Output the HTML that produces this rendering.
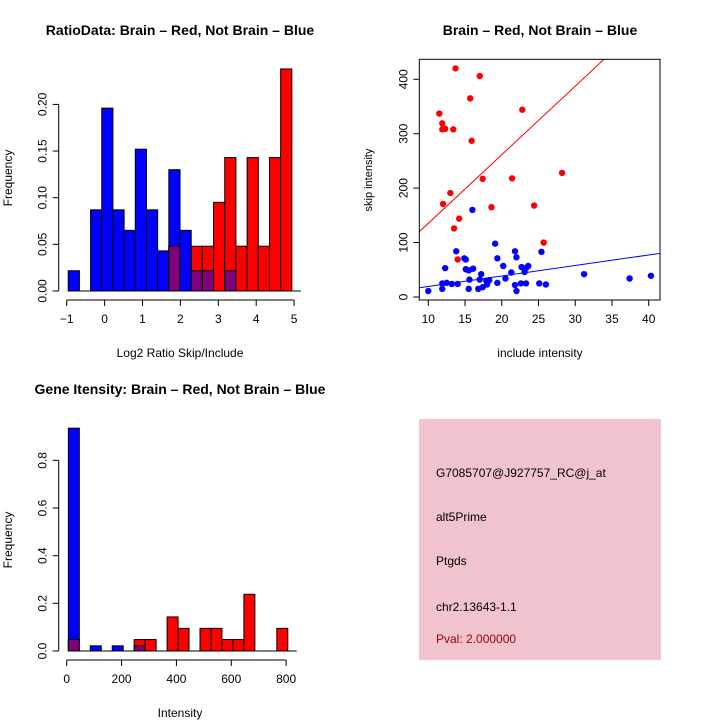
<!DOCTYPE html>
<html><head><meta charset="utf-8"><style>
body{margin:0;background:#fff}
svg{display:block;font-family:"Liberation Sans",sans-serif}
</style></head><body>
<svg id="svg" width="720" height="720" viewBox="0 0 720 720">
<text x="180" y="35" font-size="14" font-weight="bold" text-anchor="middle">RatioData: Brain – Red, Not Brain – Blue</text>
<text x="540" y="35" font-size="14" font-weight="bold" text-anchor="middle">Brain – Red, Not Brain – Blue</text>
<text x="180" y="394" font-size="14" font-weight="bold" text-anchor="middle">Gene Itensity: Brain – Red, Not Brain – Blue</text>
<g id="g1"></g>
<g id="g2"></g>
<g id="g3"></g>
<g>
<rect x="419" y="419" width="242" height="241" fill="#f1c3cd"/>
<g font-size="12">
<text x="436" y="477">G7085707@J927757_RC@j_at</text>
<text x="436" y="521">alt5Prime</text>
<text x="436" y="565">Ptgds</text>
<text x="436" y="611">chr2.13643-1.1</text>
<text x="436" y="643" fill="#990000">Pval: 2.000000</text>
</g></g>
</svg>
<script>
// Ratio histogram data
const ratioBinStart = -0.96;
const ratioBinWidth = 0.295;
const ratioBlue = [0.0217,0,0.087,0.196,0.087,0.065,0.152,0.087,0.043,0.13,0.065,0.0217,0.0217,0,0.0217,0,0,0,0,0];
const ratioRed = [0,0,0,0,0,0,0,0,0,0.048,0,0.048,0.048,0.095,0.143,0.048,0.143,0.048,0.143,0.238];
const ratioXTicks = [-1,0,1,2,3,4,5];
const ratioYTicks = [0,0.05,0.10,0.15,0.20];
const ratioYLabels = ["0.00","0.05","0.10","0.15","0.20"];
// Intensity histogram data
const intBinStart = 6;
const intBinWidth = 40;
const intBlue = [0.935,0,0.0217,0,0.0217,0,0.0217,0,0,0,0,0,0,0,0,0,0,0,0,0];
const intRed = [0.048,0,0,0,0,0,0.048,0.048,0,0.143,0.095,0,0.095,0.095,0.048,0.048,0.238,0,0,0.095];
const intXTicks = [0,200,400,600,800];
const intYTicks = [0,0.2,0.4,0.6,0.8];
const intYLabels = ["0.0","0.2","0.4","0.6","0.8"];
// Scatter data
const redX = [13.7,17.0,11.5,11.9,11.9,12.3,13.4,15.7,22.8,15.9,17.4,21.4,28.2,13.0,12.0,14.2,18.6,24.4,13.5,14.0,25.7];
const redY = [420,406,337,319,308,309,308,365,344,287,217,218,228,191,171,144,165,168,126,69,100];
const blueX = [10.0,16.0,13.8,12.3,11.9,11.9,12.5,13.2,14.0,14.9,15.1,15.1,15.5,16.1,15.6,15.5,16.8,17.2,17.0,17.4,17.9,18.3,18.0,19.1,19.4,19.4,20.2,20.5,21.3,21.8,21.8,22.0,22.0,22.6,22.7,23.1,23.3,23.6,23.3,25.1,25.4,26.0,31.2,37.4,40.3];
const blueY = [11,160,84,53,25,15,26,24,24,71,69,51,49,52,32,15,15,42,32,18,30,31,23,98,71,26,57,34,45,22,84,73,11,25,55,46,53,57,25,25,83,23,42,34,39];
const redFit = [9.4,12.6];   // intercept, slope
const blueFit = [0,1.93];
const scatterXTicks = [10,15,20,25,30,35,40];
const scatterYTicks = [0,100,200,300,400];

const NS="http://www.w3.org/2000/svg";
function mk(parent,tag,attrs){const e=document.createElementNS(NS,tag);for(const k in attrs)e.setAttribute(k,attrs[k]);parent.appendChild(e);return e;}

function hist(g,o){
  const sx=v=>o.x0+(v-o.vx0)*o.kx, sy=v=>o.y0-v*o.ky;
  for(let i=0;i<o.blue.length;i++){
    const a=o.start+i*o.w,b=a+o.w;
    const x=sx(a),wd=sx(b)-sx(a);
    const hb=o.blue[i],hr=o.red[i],hm=Math.min(hb,hr);
    if(hb>0){const r=mk(g,'rect',{x:x,y:sy(hb),width:wd,height:sy(0)-sy(hb),fill:'#0000ff',stroke:'#000','stroke-width':1});
      
      }
    if(hr>0){const r=mk(g,'rect',{x:x,y:sy(hr),width:wd,height:sy(0)-sy(hr),fill:'#ff0000',stroke:'#000','stroke-width':1});
      
      }
    if(hm>0){const r=mk(g,'rect',{x:x,y:sy(hm),width:wd,height:sy(0)-sy(hm),fill:'#800080',stroke:'#000','stroke-width':1});
      
      }
  }
  // baseline
  mk(g,'line',{x1:sx(o.start),x2:sx(o.start+o.blue.length*o.w)+9,y1:o.y0,y2:o.y0,stroke:'#000'});
  // x axis
  const xa=o.y0+9;
  mk(g,'line',{x1:sx(o.xt[0]),x2:sx(o.xt[o.xt.length-1]),y1:xa,y2:xa,stroke:'#000'});
  o.xt.forEach(t=>{mk(g,'line',{x1:sx(t),x2:sx(t),y1:xa,y2:xa+6,stroke:'#000'});
    const tx=mk(g,'text',{x:sx(t),y:xa+23,'font-size':12,'text-anchor':'middle'});tx.textContent=t<0?'\u2212'+(-t):t;
    
    });
  // y axis
  const ya=o.x0-8;
  mk(g,'line',{x1:ya,x2:ya,y1:sy(o.yt[0]),y2:sy(o.yt[o.yt.length-1]),stroke:'#000'});
  o.yt.forEach((t,i)=>{mk(g,'line',{x1:ya-6,x2:ya,y1:sy(t),y2:sy(t),stroke:'#000'});
    const tx=mk(g,'text',{x:ya-12,y:sy(t),'font-size':12,'text-anchor':'middle',transform:`rotate(-90 ${ya-12} ${sy(t)})`});tx.textContent=o.yl[i];
    
    });
  const xl=mk(g,'text',{x:o.xlx,y:o.xly,'font-size':12,'text-anchor':'middle'});xl.textContent=o.xlab;
  
  
  const yl=mk(g,'text',{x:12,y:o.yly,'font-size':12,'text-anchor':'middle',transform:`rotate(-90 12 ${o.yly})`});yl.textContent='Frequency';
  
  
}
hist(document.getElementById('g1'),{x0:66.7,vx0:-1,kx:37.9,y0:291,ky:933,start:ratioBinStart,w:ratioBinWidth,blue:ratioBlue,red:ratioRed,xt:ratioXTicks,yt:ratioYTicks,yl:ratioYLabels,xlab:'Log2 Ratio Skip/Include',xlx:180,xly:357,yly:178});
hist(document.getElementById('g3'),{x0:66.7,vx0:0,kx:0.2743,y0:651,ky:238.3,start:intBinStart,w:intBinWidth,blue:intBlue,red:intRed,xt:intXTicks,yt:intYTicks,yl:intYLabels,xlab:'Intensity',xlx:180,xly:717,yly:540});

// scatter
(function(){
  const g=document.getElementById('g2');
  const L=419.3,R=660,T=59.3,B=300;
  const sx=v=>428.3+(v-10)*7.347, sy=v=>297-v*0.5443;
  const vx=p=>(p-428.3)/7.347+10;
  const cp=mk(g,'clipPath',{id:'sc'});mk(cp,'rect',{x:L,y:T,width:R-L,height:B-T});
  [[redFit,'#ff0000','red-fit-line'],[blueFit,'#0000ff','blue-fit-line']].forEach(([f,c,n])=>{
    const x1=vx(L),x2=vx(R);
    const l=mk(g,'line',{x1:L,x2:R,y1:sy(f[0]+f[1]*x1),y2:sy(f[0]+f[1]*x2),stroke:c,'clip-path':'url(#sc)'});
    
    
  });
  redX.forEach((x,i)=>{const c=mk(g,'circle',{cx:sx(x),cy:sy(redY[i]),r:3.2,fill:'#ff0000'});
    
    });
  blueX.forEach((x,i)=>{const c=mk(g,'circle',{cx:sx(x),cy:sy(blueY[i]),r:3.2,fill:'#0000ff'});
    
    });
  mk(g,'rect',{x:L,y:T,width:R-L,height:B-T,fill:'none',stroke:'#000'});
  scatterXTicks.forEach(t=>{mk(g,'line',{x1:sx(t),x2:sx(t),y1:B,y2:B+6,stroke:'#000'});
    const tx=mk(g,'text',{x:sx(t),y:B+23,'font-size':12,'text-anchor':'middle'});tx.textContent=t;
    
    });
  scatterYTicks.forEach(t=>{mk(g,'line',{x1:L-6,x2:L,y1:sy(t),y2:sy(t),stroke:'#000'});
    const tx=mk(g,'text',{x:L-12,y:sy(t),'font-size':12,'text-anchor':'middle',transform:`rotate(-90 ${L-12} ${sy(t)})`});tx.textContent=t;
    
    });
  const xl=mk(g,'text',{x:540,y:357,'font-size':12,'text-anchor':'middle'});xl.textContent='include intensity';
  
  
  const yl=mk(g,'text',{x:372,y:180,'font-size':11,'text-anchor':'middle',transform:'rotate(-90 372 180)'});yl.textContent='skip intensity';
  
  
})();
</script>
</body></html>
